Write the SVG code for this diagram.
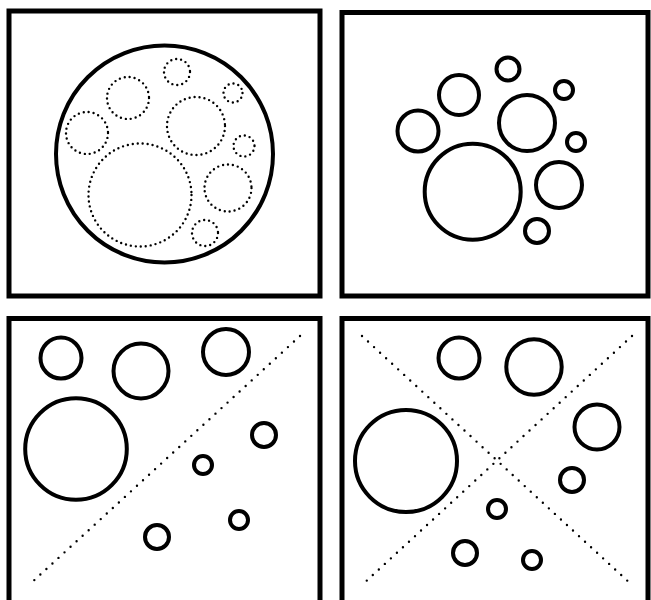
<svg xmlns="http://www.w3.org/2000/svg" width="651" height="600" viewBox="0 0 651 600">
<style>
.frame{fill:none;stroke:#000;stroke-width:5}
.c{fill:none;stroke:#000;stroke-width:4}
.dc{fill:none;stroke:#000;stroke-width:2.4;stroke-dasharray:0 5;stroke-linecap:round}
.dl{fill:none;stroke:#000;stroke-width:2.4;stroke-dasharray:0 8.2;stroke-linecap:round}
</style>
<rect width="651" height="600" fill="#fff"/>
<g id="panel1">
<rect class="frame" x="9" y="11" width="311" height="285"/>
<circle class="c" cx="164.5" cy="154" r="108.5"/>
<circle class="dc" cx="177" cy="72" r="13"/>
<circle class="dc" cx="128" cy="98" r="21"/>
<circle class="dc" cx="87" cy="133" r="21"/>
<circle class="dc" cx="233" cy="93" r="9.5"/>
<circle class="dc" cx="196" cy="126" r="29"/>
<circle class="dc" cx="244" cy="146" r="10.5"/>
<circle class="dc" cx="140" cy="195" r="51.5"/>
<circle class="dc" cx="228" cy="188" r="23.5"/>
<circle class="dc" cx="205" cy="233" r="13"/>
</g>
<g id="panel2">
<rect class="frame" x="342" y="12.5" width="306" height="283.5"/>
<circle class="c" cx="472.7" cy="191.7" r="48"/>
<circle class="c" cx="508" cy="69" r="11.5"/>
<circle class="c" cx="459" cy="95" r="20"/>
<circle class="c" cx="418" cy="131" r="20.5"/>
<circle class="c" cx="564" cy="90" r="9"/>
<circle class="c" cx="527" cy="123" r="28"/>
<circle class="c" cx="576" cy="142" r="9"/>
<circle class="c" cx="559" cy="185" r="23"/>
<circle class="c" cx="537" cy="231" r="12"/>
</g>
<g id="panel3">
<rect class="frame" x="9" y="318.5" width="311" height="285"/>
<line class="dl" x1="300" y1="336" x2="29" y2="585"/>
<circle class="c" cx="61" cy="358" r="20.5"/>
<circle class="c" cx="141" cy="371" r="27.5"/>
<circle class="c" cx="226" cy="352" r="23"/>
<circle class="c" cx="76" cy="449" r="50.8"/>
<circle class="c" cx="264" cy="435" r="12"/>
<circle class="c" cx="203" cy="465" r="9"/>
<circle class="c" cx="239" cy="520" r="9"/>
<circle class="c" cx="157" cy="537" r="12"/>
</g>
<g id="panel4">
<rect class="frame" x="342" y="318.5" width="306" height="285"/>
<line class="dl" x1="362" y1="336" x2="632" y2="585"/>
<line class="dl" x1="632" y1="336" x2="362" y2="585"/>
<circle class="c" cx="459" cy="358" r="20.5"/>
<circle class="c" cx="534" cy="367" r="27.7"/>
<circle class="c" cx="597" cy="427" r="22.5"/>
<circle class="c" cx="406" cy="461" r="51"/>
<circle class="c" cx="572" cy="480" r="12"/>
<circle class="c" cx="497" cy="509" r="9"/>
<circle class="c" cx="465" cy="553" r="12"/>
<circle class="c" cx="532" cy="560" r="9"/>
</g>
</svg>
